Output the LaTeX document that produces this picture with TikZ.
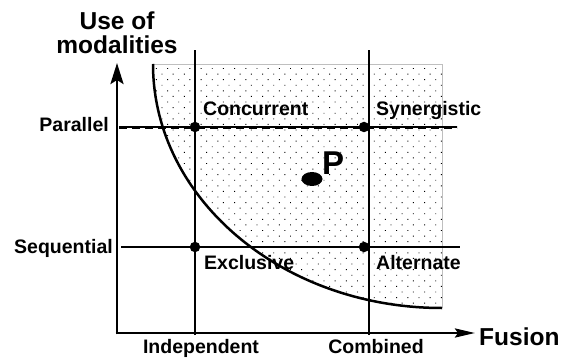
\documentclass[tikz,border=0pt]{standalone}
\usepackage{fontspec}
\setmainfont{Liberation Sans}
\usetikzlibrary{arrows.meta,patterns.meta,shapes.geometric}
\begin{document}
\begin{tikzpicture}[x=1pt,y=1pt,
  lbl/.style={font=\fontsize{19.5}{22}\selectfont\bfseries, inner sep=0pt},
  biglbl/.style={font=\fontsize{24.5}{26}\selectfont\bfseries, inner sep=0pt},
  axisline/.style={line width=2.8pt},
  gridline/.style={line width=2.6pt},
  dotpt/.style={circle, fill=black, inner sep=0pt, minimum size=10.5pt}]
\useasboundingbox (0,0) rectangle (564,359);
% dotted region
\fill[pattern={Dots[distance=7.9pt,radius=0.65pt,angle=45]}]
  (442,51) arc[start angle=270,end angle=180,x radius=289,y radius=244] -- (442,295) -- cycle;
\draw[black!25, line width=0.7pt] (153,295) -- (442,295) -- (442,51);
% axes
\coordinate (ybot) at (117,24.6);
\coordinate (ytop) at (117,296);
\coordinate (xleft) at (115.6,26);
\coordinate (xright) at (475,26);
\draw[axisline,-{Stealth[length=21pt,width=13pt,inset=4pt]}] (ybot) -- (ytop);
\draw[axisline,-{Stealth[length=20pt,width=9pt,inset=3pt]}] (xleft) -- (xright);
% grid lines
\coordinate (ib) at (195,24);
\coordinate (it) at (195,309);
\coordinate (cb) at (369,24);
\coordinate (ct) at (369,309);
\coordinate (pl) at (119,232);
\coordinate (pr) at (457,232);
\coordinate (sl) at (121,112);
\coordinate (sr) at (460,112);
\draw[gridline] (ib) -- (it);
\draw[gridline] (cb) -- (ct);
\draw[gridline] (pl) -- (pr);
\draw[line width=3.4pt, dash pattern=on 8pt off 5pt] ([yshift=-0.4pt]pl) -- ([yshift=-0.4pt]pr);
\draw[gridline] (sl) -- (sr);
% curve
\draw[line width=2.5pt] (153,295) arc[start angle=180,end angle=270,x radius=289,y radius=244];
% points
\node[dotpt] (conc) at (195,232) {};
\node[dotpt] (syn) at (364,232) {};
\node[dotpt] (excl) at (195,112) {};
\node[dotpt] (alt) at (364,112) {};
\node[ellipse, fill=black, inner sep=0pt, minimum width=21pt, minimum height=14pt] (pdot) at (312,180) {};
% labels
\node[biglbl, anchor=base] (use) at (117,329) {Use of};
\node[biglbl, anchor=base] (mod) at (117,305) {modalities};
\node[biglbl, anchor=base west] (fus) at (479,14) {Fusion};
\node[lbl, anchor=base east] (par) at (109,227) {Parallel};
\node[lbl, anchor=base east] (seq) at (113,106) {Sequential};
\node[lbl, anchor=base west] (tconc) at (203,243) {Concurrent};
\node[lbl, anchor=base west] (tsyn) at (376,243) {Synergistic};
\node[lbl, anchor=base west] (texcl) at (204,90) {Exclusive};
\node[lbl, anchor=base west] (talt) at (376,90) {Alternate};
\node[lbl, anchor=base] (tind) at (201,6) {Independent};
\node[lbl, anchor=base] (tcomb) at (376,6) {Combined};
\node[font=\fontsize{33}{36}\selectfont\bfseries, inner sep=0pt, anchor=base west] (tp) at (322,184) {P};
\end{tikzpicture}
\end{document}
